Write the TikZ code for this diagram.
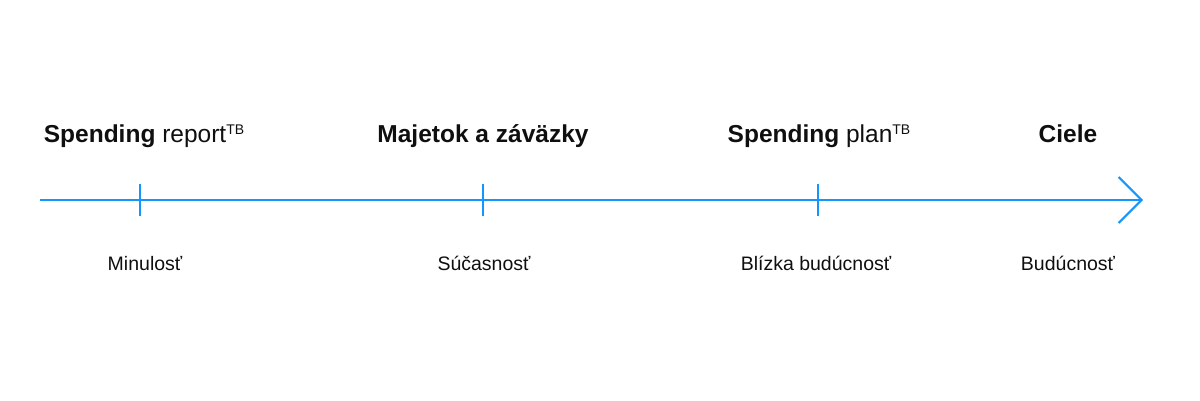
\documentclass[tikz,border=0pt]{standalone}
\usepackage{fontspec}
\setmainfont{Liberation Sans}
\usetikzlibrary{arrows.meta,positioning,calc}
\definecolor{lineblue}{RGB}{20,150,250}
\definecolor{textdark}{RGB}{15,15,15}
\newcommand{\tbmark}{\raisebox{7.5pt}{\fontsize{14}{14}\selectfont TB}}
\tikzset{
  axis/.style={line width=2pt, draw=lineblue, -{Straight Barb[length=23pt, width=46pt, line width=2pt]}},
  tick/.style={line width=2pt, draw=lineblue},
  phase/.style={anchor=base, text=textdark, inner sep=0pt, font=\fontsize{24.5}{28}\selectfont},
  period/.style={anchor=base, text=textdark, inner sep=0pt, font=\fontsize{19.5}{22}\selectfont},
}

\begin{document}
\begin{tikzpicture}[x=1pt, y=1pt]
    \useasboundingbox (0,0) rectangle (1200,400);
    % points on the timeline
    \coordinate (start) at (40,200);
    \coordinate (finish) at (1143,200);
    \coordinate (past) at (140,200);
    \coordinate (now) at (483,200);
    \coordinate (soon) at (818,200);
    \coordinate (goal) at (1068,200);
    \draw[axis] (start) -- (finish);
    \foreach \t in {past,now,soon}
      \draw[tick] ($(\t)+(0,16)$) -- ($(\t)+(0,-16)$);
    % labels above
    \node[phase] (report) at ($(past)+(4,58)$) {\textbf{Spending} report\tbmark};
    \node[phase] (assets) at ($(now)+(0,58)$) {\textbf{Majetok a záväzky}};
    \node[phase] (plan) at ($(soon)+(1,58)$) {\textbf{Spending} plan\tbmark};
    \node[phase] (aims) at ($(goal)+(0,58)$) {\textbf{Ciele}};
    % labels below
    \node[period] (minul) at ($(past)+(5,-70)$) {Minulosť};
    \node[period] (sucas) at ($(now)+(1,-70)$) {Súčasnosť};
    \node[period] (blizka) at ($(soon)+(-2,-70)$) {Blízka budúcnosť};
    \node[period] (buduc) at ($(goal)+(0,-70)$) {Budúcnosť};
\end{tikzpicture}
\end{document}
